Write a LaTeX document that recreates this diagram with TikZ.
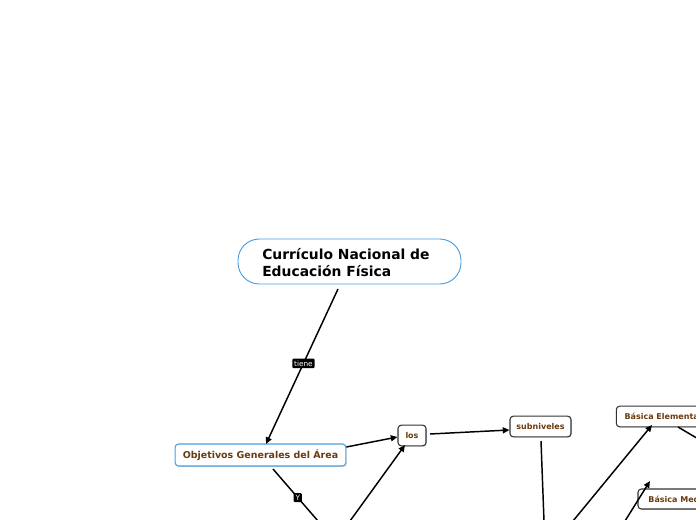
\documentclass[tikz,border=0pt]{standalone}
\usepackage{fontspec}
\setmainfont{DejaVu Sans}
\usetikzlibrary{arrows.meta,shadows}
\definecolor{brownt}{HTML}{6B3A0E}
\definecolor{blueb}{HTML}{4A9FE0}
\begin{document}
\begin{tikzpicture}[x=0.75pt,y=-0.75pt,
  topic/.style={draw=black!80,line width=0.8pt,rounded corners=2.5pt,fill=white,
    drop shadow={shadow xshift=0.6pt,shadow yshift=-0.6pt,opacity=0.35},
    font=\fontsize{6}{7}\selectfont\bfseries,text=brownt,inner sep=0pt,anchor=center},
  lbl/.style={fill=black,text=white,font=\fontsize{5.5}{6.5}\selectfont,inner sep=1.4pt,rounded corners=0.8pt},
  conn/.style={line width=1.1pt,-{Triangle[length=5pt,width=4.5pt]}},
  plain/.style={line width=1.1pt}]
\useasboundingbox (0,0) rectangle (696,520);
\clip (0,0) rectangle (696,520);
\node[draw=blueb,line width=0.7pt,rounded corners=16pt,minimum width=167.25pt,minimum height=33.75pt,fill=white] (main) at (349.5,261.5) {};
\node[anchor=west,align=left,inner sep=0pt,font=\fontsize{10.4}{12.5}\selectfont\bfseries,text=black] (maintxt) at (262,262.5) {Currículo Nacional de\\Educación Física};
\node[topic,draw=blueb,minimum width=128pt,minimum height=16.5pt,font=\fontsize{7.1}{9}\selectfont\bfseries] (obj) at (260.5,455) {Objetivos Generales del Área};
\node[topic,minimum width=21pt,minimum height=15.5pt] (los) at (412,435.5) {los};
\node[topic,minimum width=45.75pt,minimum height=15.5pt] (sub) at (540.5,426.5) {subniveles};
\node[topic,minimum width=70pt,minimum height=15.5pt] (bel) at (663,416.5) {Básica Elemental};
\node[topic,minimum width=60pt,minimum height=15pt] (bme) at (678,499) {Básica Media};
\coordinate (c1) at (338,289);
\coordinate (ytop) at (273,469);
\coordinate (ybot) at (318,521);
\coordinate (lfrom) at (350,521);
\coordinate (sbot) at (544,521);
\coordinate (bfrom) at (573,521);
\coordinate (mfrom) at (625,521);
\coordinate (btop) at (678,427);
\coordinate (bend) at (700,440);
\coordinate (objtip) at (266,444);
\draw[conn] (c1) -- node[lbl,pos=0.48] (tiene) {tiene} (objtip);
\draw[plain] (ytop) -- node[lbl,pos=0.55] (ylbl) {Y} (ybot);
\draw[conn] (obj.east |- 0,447) -- (los.west |- 0,437);
\draw[conn] (lfrom) -- (405,445);
\draw[conn] (430,434) -- (sub.west |- 0,430);
\draw[plain] (541,441) -- (sbot);
\draw[conn] (bfrom) -- (652,425);
\draw[conn] (mfrom) -- (650,481);
\draw[plain] (btop) -- (bend);
\end{tikzpicture}
\end{document}
